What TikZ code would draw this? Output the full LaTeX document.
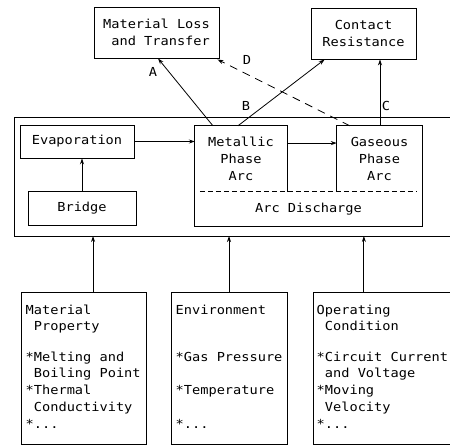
\documentclass[tikz,border=0pt]{standalone}
\usepackage{fontspec}
\setmonofont[FakeStretch=1.1]{DejaVu Sans Mono}
\usetikzlibrary{arrows.meta,calc}
\begin{document}
\begin{tikzpicture}[x=1pt,y=-1pt,
  every node/.style={font=\ttfamily\fontsize{12.4}{16.8}\selectfont, inner sep=0pt},
  box/.style={draw, line width=0.9pt, rectangle},
  plain/.style={rectangle},
  arr/.style={line width=0.8pt, -{Stealth[length=6pt,width=4pt]}},
  dasharr/.style={arr, dash pattern=on 8pt off 6pt},
  lbl/.style={font=\ttfamily\fontsize{12.4}{16.8}\selectfont},
  txt/.style={align=left, anchor=base west}
]
\useasboundingbox (0,0) rectangle (450,446);

% top boxes
\node[box, minimum width=125pt, minimum height=51pt, align=left] (loss) at (156.5,32.5)
  {\fontsize{12.4}{18}\selectfont Material Loss\\\phantom{a}and Transfer};
\node[box, minimum width=105pt, minimum height=51pt, align=center] (cont) at (363.5,33.5)
  {\fontsize{12.4}{17}\selectfont Contact\\Resistance};

% frame
\coordinate (fb) at (0,236);
\draw[line width=0.9pt] (452,117.5) -- (14,117.5) -- (14,236) -- (452,236);

% inner boxes
\node[box, minimum width=114pt, minimum height=33pt] (evap) at (77,141.5) {Evaporation};
\node[box, minimum width=108pt, minimum height=34pt] (bridge) at (82,208) {Bridge};

\node[plain, minimum width=92pt, minimum height=66pt, align=center] (met) at (241,159)
  {\fontsize{12.4}{16}\selectfont Metallic\\Phase\\Arc};
\node[plain, minimum width=85pt, minimum height=66pt, align=center] (gas) at (379.5,159)
  {\fontsize{12.4}{16}\selectfont Gaseous\\Phase\\Arc};
\node[plain, minimum width=227pt, minimum height=34pt] (arcd) at (308.5,209) {Arc Discharge};

\draw[line width=0.9pt] (met.south east) -- (met.north east) -- (met.north west)
  -- (arcd.south west) -- (arcd.south east) -- (gas.north east) -- (gas.north west)
  -- (gas.south west);
\draw[line width=0.8pt, dash pattern=on 5pt off 3pt]
  ($(arcd.north west)+(5,0)$) -- ($(arcd.north east)+(-5,0)$);

% anchor points
\coordinate (mg) at ($(met.north east)!0.26!(met.south east)$);
\coordinate (ma) at ($(met.north west)!0.196!(met.north east)$);
\coordinate (mb) at ($(met.north west)!0.467!(met.north east)$);
\coordinate (gc) at ($(gas.north west)!0.506!(gas.north east)$);
\coordinate (gd) at ($(gas.north west)!0.153!(gas.north east)$);
\coordinate (la0) at ($(loss.south west)!0.512!(loss.south east)$);
\coordinate (ld0) at ($(loss.south east)+(-2,1)$);
\coordinate (cb0) at ($(cont.south west)!0.133!(cont.south east)$);
\coordinate (cc0) at ($(cont.south west)!0.657!(cont.south east)$);

% inner arrows
\draw[arr] (bridge.north) -- (bridge.north |- evap.south);
\draw[arr] (evap.east) -- (evap.east -| met.west);
\draw[arr] (mg) -- (mg -| gas.west);

% upper arrows
\draw[arr] (ma) -- (la0);
\draw[arr] (mb) -- (cb0);
\draw[arr] (gc) -- (gc |- cc0);
\draw[dasharr] (gd) -- (ld0);

\node[lbl] (la) at (153,72) {A};
\node[lbl] (lb) at (246,106) {B};
\node[lbl] (lc) at (386,106) {C};
\node[lbl] (ld) at (247,60) {D};

% bottom boxes
\node[box, minimum width=125pt, minimum height=152pt] (prop) at (83.5,368) {};
\node[box, minimum width=116pt, minimum height=152pt] (env) at (229,368) {};
\node[box, minimum width=139pt, minimum height=152pt] (oper) at (382.5,368) {};

\node[txt] (tprop) at (25.5,428.2)
  {Material\\\phantom{*}Property\\[13.4pt]*Melting and\\\phantom{*}Boiling Point\\*Thermal\\\phantom{*}Conductivity\\*...};
\node[txt] (tenv) at (175.5,428.2)
  {Environment\\[30.2pt]*Gas Pressure\\[16.8pt]*Temperature\\[16.8pt]*...};
\node[txt] (toper) at (316.5,428.2)
  {Operating\\\phantom{*}Condition\\[13.4pt]*Circuit Current\\\phantom{*}and Voltage\\*Moving\\\phantom{*}Velocity\\*...};

% bottom arrows
\coordinate (pa) at ($(prop.north west)!0.576!(prop.north east)$);
\coordinate (oa) at ($(oper.north west)!0.367!(oper.north east)$);
\draw[arr] (pa) -- (pa |- fb);
\draw[arr] (env.north) -- (env.north |- fb);
\draw[arr] (oa) -- (oa |- fb);
\end{tikzpicture}
\end{document}
